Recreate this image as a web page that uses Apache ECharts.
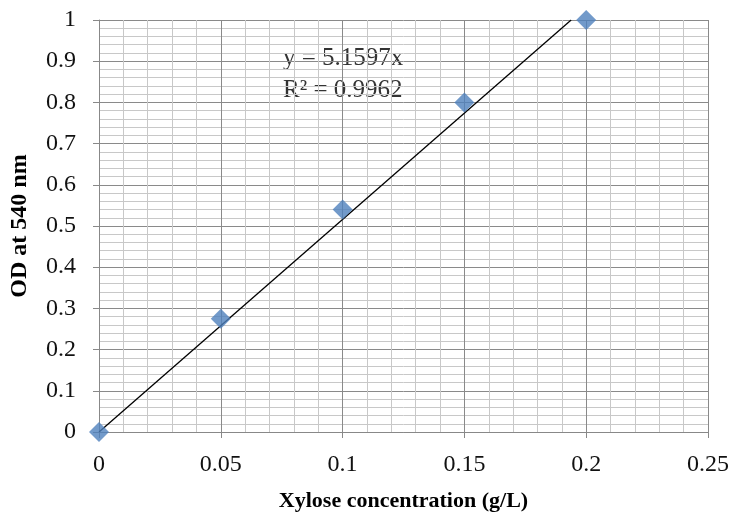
<!DOCTYPE html>
<html><head><meta charset="utf-8">
<script src="https://cdn.jsdelivr.net/npm/echarts@6/dist/echarts.min.js"></script>
<style>html,body{margin:0;padding:0;background:#fff}#c{width:733px;height:517px}</style>
</head><body><div id="c"></div>
<script>
const xValues = [0, 0.05, 0.1, 0.15, 0.2];
const yValues = [0, 0.275, 0.54, 0.8, 1.0];
const slope = 5.1597;
const r2 = 0.9962;
const xTitle = 'Xylose concentration (g/L)';
const yTitle = 'OD at 540 nm';

const points = xValues.map((x, i) => [x, yValues[i]]);
const trend = [[0, 0], [1 / slope, 1]];
const font = '"Liberation Serif", "Times New Roman", serif';

const chart = echarts.init(document.getElementById('c'), null, {renderer: 'canvas'});
chart.setOption({
  animation: false,
  backgroundColor: '#fff',
  grid: {left: 99, right: 25, top: 20, bottom: 84, containLabel: false},
  xAxis: {
    type: 'value', min: 0, max: 0.25, interval: 0.05,
    name: xTitle, nameLocation: 'middle', nameGap: 58,
    nameTextStyle: {fontFamily: font, fontWeight: 'bold', fontSize: 22, color: '#000'},
    axisLine: {show: true, lineStyle: {color: '#888', width: 1}},
    axisTick: {show: true, inside: false, length: 6, lineStyle: {color: '#888'}},
    axisLabel: {fontFamily: font, fontSize: 24, color: '#111', margin: 21,
      formatter: v => String(+v.toFixed(2))},
    splitLine: {show: true, lineStyle: {color: '#8a8a8a', width: 1}},
    minorTick: {show: false, splitNumber: 5},
    minorSplitLine: {show: true, lineStyle: {color: '#c8c8c8', width: 1}}
  },
  yAxis: {
    type: 'value', min: 0, max: 1, interval: 0.1,
    name: yTitle, nameLocation: 'middle', nameGap: 67, nameRotate: 90,
    nameTextStyle: {fontFamily: font, fontWeight: 'bold', fontSize: 24, color: '#000'},
    axisLine: {show: true, lineStyle: {color: '#888', width: 1}},
    axisTick: {show: true, inside: false, length: 6, lineStyle: {color: '#888'}},
    axisLabel: {fontFamily: font, fontSize: 24, color: '#111', margin: 23,
      formatter: v => String(+v.toFixed(1))},
    splitLine: {show: true, lineStyle: {color: '#8a8a8a', width: 1}},
    minorTick: {show: false, splitNumber: 5},
    minorSplitLine: {show: true, lineStyle: {color: '#c8c8c8', width: 1}}
  },
  series: [
    {
      type: 'line', data: trend, symbol: 'none', silent: true,
      lineStyle: {color: '#000', width: 1.3}, z: 3
    },
    {
      type: 'scatter', data: points, symbol: 'diamond', symbolSize: 20,
      itemStyle: {color: '#4F81BD'}, z: 4
    }
  ],
  graphic: [
    {type: 'text', left: 283, top: 42,
      style: {text: 'y = ' + slope + 'x\nR² = ' + r2, font: '25px ' + font, fill: '#333', lineHeight: 32}}
  ]
});
</script></body></html>
